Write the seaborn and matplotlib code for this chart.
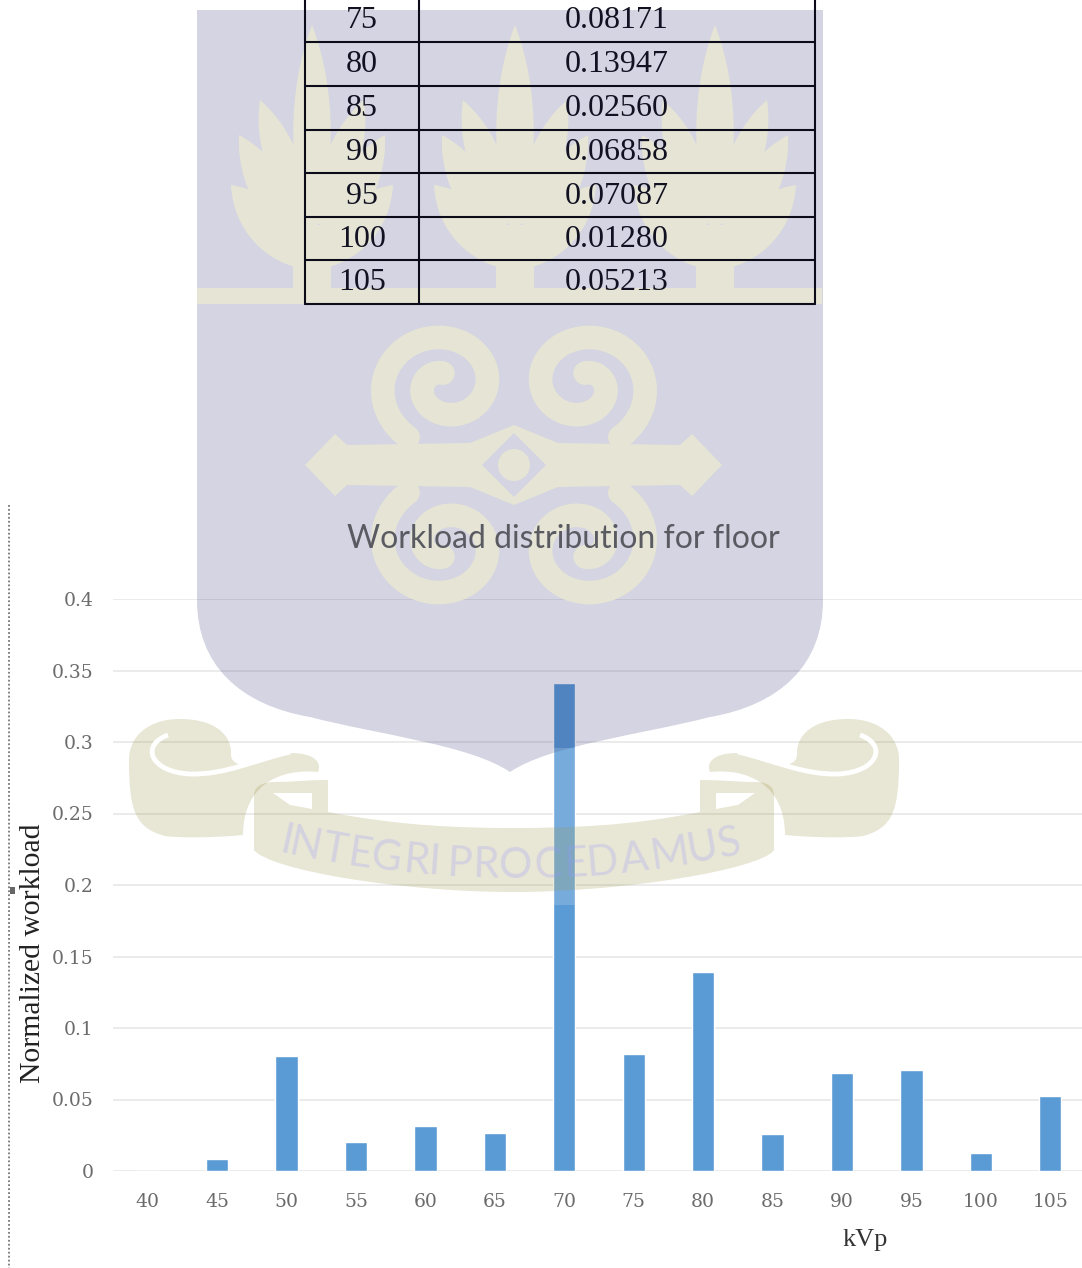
import numpy as np
import pandas as pd
import seaborn as sns
import matplotlib
matplotlib.use("Agg")
import matplotlib.pyplot as plt
from matplotlib.font_manager import FontProperties
from matplotlib.path import Path
from matplotlib.patches import PathPatch, Ellipse, Polygon, Rectangle
from matplotlib.textpath import TextPath

# chart data
kvp = ["40", "45", "50", "55", "60", "65", "70", "75", "80", "85", "90", "95", "100", "105"]
workload = [0, 0.0082, 0.0805, 0.0203, 0.0318, 0.0265, 0.3415, 0.08171, 0.13947, 0.02560, 0.06858, 0.07087, 0.01280, 0.05213]
y_ticks = [0, 0.05, 0.1, 0.15, 0.2, 0.25, 0.3, 0.35, 0.4]
y_tick_labels = ["0", "0.05", "0.1", "0.15", "0.2", "0.25", "0.3", "0.35", "0.4"]

# table rows at the top of the page
table_kvp = ["75", "80", "85", "90", "95", "100", "105"]
table_workload = ["0.08171", "0.13947", "0.02560", "0.06858", "0.07087", "0.01280", "0.05213"]

W, H = 1082, 1268
LAVENDER = (40 / 255, 40 / 255, 110 / 255)
LAV_SOLID = "#d4d4e3"
CREAM = "#e6e5d5"
CREAM_A = (140 / 255, 130 / 255, 40 / 255)
GRAY = "#6b6b6b"

sns.set_theme(style="white")
fig = plt.figure(figsize=(W / 100, H / 100), dpi=100, facecolor="white")

# main chart
ax = fig.add_axes([113 / W, (H - 1171) / H, 972 / W, (1171 - 599) / H], zorder=1)
ax.patch.set_alpha(0)
df = pd.DataFrame({"kVp": kvp, "workload": workload})
sns.barplot(data=df, x="kVp", y="workload", color="#5b9bd5", saturation=1, width=0.32, ax=ax, zorder=3)
ax.set_ylim(0, 0.4)
ax.set_yticks(y_ticks)
ax.set_yticklabels(y_tick_labels)
ax.tick_params(axis="both", length=0, labelsize=13.5, labelcolor=GRAY)
ax.tick_params(axis="x", pad=16)
ax.tick_params(axis="y", pad=14)
for t in ax.get_xticklabels() + ax.get_yticklabels():
    t.set_family("DejaVu Serif")
ax.grid(axis="y", color="#e6e6e6", lw=1.1)
ax.set_axisbelow(True)
sns.despine(ax=ax, left=True, bottom=True)
ax.set_xlabel("")
ax.set_ylabel("")


# everything else is drawn in page pixels
pg = fig.add_axes([0, 0, 1, 1], zorder=2)
pg.set_xlim(0, W)
pg.set_ylim(H, 0)
pg.axis("off")
pg.patch.set_alpha(0)


def bez(points, **kw):
    # points: start, then triples of control points
    codes = [Path.MOVETO] + [Path.CURVE4] * (len(points) - 1)
    p = PathPatch(Path(points, codes), lw=0, **kw)
    pg.add_patch(p)


def leaf(x0, y0, x1, y1, w, color=CREAM):
    # leaf from stem point to tip, bulging both sides
    dx, dy = x1 - x0, y1 - y0
    nx, ny = -dy, dx
    ln = np.hypot(nx, ny)
    nx, ny = nx / ln * w, ny / ln * w
    bez([(x0, y0),
         (x0 + dx * .3 + nx, y0 + dy * .3 + ny), (x0 + dx * .7 + nx, y0 + dy * .7 + ny), (x1, y1),
         (x0 + dx * .7 - nx, y0 + dy * .7 - ny), (x0 + dx * .3 - nx, y0 + dy * .3 - ny), (x0, y0)],
        color=color, zorder=3)


def plant(cx):
    leaf(cx, 240, cx, 25, 25)
    for side in (-1, 1):
        leaf(cx + side * 6, 225, cx + side * 52, 100, 22)
        leaf(cx + side * 6, 255, cx + side * 73, 135, 26)
        leaf(cx + side * 4, 270, cx + side * 81, 185, 28)
    pg.add_patch(Rectangle((cx - 19, 225), 38, 70, color=CREAM, lw=0, zorder=3))


def spiral(cx, cy, sign, vert):
    # from the outer end, round the top and in to the curl
    t = np.linspace(1.0, -2.45 * np.pi, 180)
    r = 62 - 50 * (1.0 - t) / (1.0 + 2.45 * np.pi)
    xs = cx + sign * r * np.cos(t) * 1.1
    ys = cy + vert * r * np.sin(t)
    pg.plot(xs, ys, color=CREAM, lw=17, solid_capstyle="round", zorder=3)


# shield
mid = 510
left = [(197, 10), (197, 250), (197, 420), (197, 600),
        (197, 665), (240, 705), (310, 717),
        (380, 735), (470, 745), (mid, 772)]
right = [(2 * mid - x, y) for x, y in left[::-1]]
shield = left + right[1:] + [(197, 10)]
codes = [Path.MOVETO] + [Path.CURVE4] * (len(left) + len(right) - 2) + [Path.CLOSEPOLY]
pg.add_patch(PathPatch(Path(shield, codes), color=LAVENDER, alpha=0.2, lw=0, zorder=2))

# leaves and emblem
for cx in (312, 515, 715):
    plant(cx)
pg.add_patch(Rectangle((197, 288), 625, 16, color=CREAM, lw=0, zorder=3))
for sign in (-1, 1):
    spiral(514 + sign * 69, 385, sign, 1)
    spiral(514 + sign * 69, 545, sign, -1)
pg.add_patch(Polygon([(305, 465), (335, 434), (347, 445), (470, 443), (514, 425), (558, 443), (680, 445), (692, 434),
                      (722, 465), (692, 496), (680, 485), (558, 487), (514, 505), (470, 487), (347, 485), (335, 496)],
                     closed=True, color=CREAM, lw=0, zorder=3.2))
pg.add_patch(Polygon([(482, 465), (514, 433), (546, 465), (514, 497)], closed=True, color=LAV_SOLID, lw=0, zorder=3.3))
pg.add_patch(Ellipse((514, 465), 32, 32, color=CREAM, lw=0, zorder=3.4))

# ribbon
ribbon_kw = dict(color=CREAM_A, alpha=0.2, zorder=2)
for flip in (False, True):
    fx = (lambda x: 1028 - x) if flip else (lambda x: x)
    roll = [(129, 760), (129, 735), (150, 719), (180, 719),
            (215, 719), (232, 735), (231, 755),
            (231, 762), (240, 772), (270, 757),
            (295, 748), (325, 755), (318, 772),
            (280, 768), (243, 785), (243, 835),
            (210, 838), (180, 838), (165, 836),
            (135, 828), (129, 810), (129, 760)]
    bez([(fx(x), y) for x, y in roll], **ribbon_kw)
    # white curl line inside the roll
    curl = [(168, 735), (140, 745), (150, 772), (190, 774), (225, 775), (255, 760), (290, 752)]
    pg.add_patch(PathPatch(Path([(fx(x), y) for x, y in curl], [Path.MOVETO] + [Path.CURVE4] * 6),
                           fc="none", ec="white", lw=3.5, zorder=2.5))
    # gap in the folded end of the band
    pg.add_patch(Polygon([(fx(273), 793), (fx(312), 793), (fx(312), 809), (fx(290), 805)], closed=True,
                         color="white", lw=0, zorder=2.5))
band = [(254, 795), (254, 787), (262, 782), (275, 782),
        (290, 782), (310, 780), (328, 780),
        (328, 790), (328, 800), (328, 812),
        (400, 826), (460, 828), (514, 828),
        (570, 828), (630, 826), (700, 812),
        (700, 800), (700, 790), (700, 780),
        (720, 780), (740, 782), (755, 782),
        (768, 782), (774, 787), (774, 795),
        (774, 810), (774, 830), (774, 850),
        (760, 870), (620, 892), (514, 892),
        (400, 892), (270, 870), (254, 850),
        (254, 830), (254, 810), (254, 795)]
bez(band, **ribbon_kw)
# pale strip over the tall bar where the watermark has no fill
pg.add_patch(Rectangle((553, 748), 23, 157, color="white", alpha=0.17, lw=0, zorder=2.1))

# motto, letters spaced by their own width along the curved band
motto = "INTEGRI PROCEDAMUS"
fp = FontProperties(family="Lato")
R = 1050
widths = [9 if ch == " " else TextPath((0, 0), ch, size=42, prop=fp).get_extents().width + 3 for ch in motto]
edges = np.cumsum([0] + widths)
scale = 458 / edges[-1]
for i, ch in enumerate(motto):
    x = 283 + (edges[i] + widths[i] / 2) * scale
    a = np.arcsin((x - 514) / R)
    y = 866 - R * (1 - np.cos(a))
    pg.text(x, y, ch, family="Lato", fontsize=30, color=(150 / 255, 150 / 255, 1), alpha=0.25,
            ha="center", va="center", rotation=np.degrees(a), zorder=4)

# table
col_x = [305, 419, 815]
row_y = [-2, 42, 86, 130, 173, 217, 260, 304]
for x in col_x:
    pg.plot([x, x], [row_y[0], row_y[-1]], color="#0b0b1a", lw=1.5, zorder=5)
for y in row_y[1:]:
    pg.plot([col_x[0], col_x[-1]], [y, y], color="#0b0b1a", lw=1.5, zorder=5)
for i, (k, v) in enumerate(zip(table_kvp, table_workload)):
    yc = (row_y[i] + row_y[i + 1]) / 2 + 1 if i else 20
    pg.text((col_x[0] + col_x[1]) / 2, yc, k, family="Liberation Serif", fontsize=23, color="#111122",
            ha="center", va="center", zorder=6)
    pg.text((col_x[1] + col_x[2]) / 2, yc, v, family="Liberation Serif", fontsize=23, color="#111122",
            ha="center", va="center", zorder=6)

# labels
pg.text(563, 539, "Workload distribution for floor", family="Lato", fontsize=23, color="#5a5a62",
        ha="center", va="center", zorder=6)
pg.text(33, 953, "Normalized workload", family="Liberation Serif", fontsize=21.3, color="#222222",
        rotation=90, ha="center", va="center", zorder=6)
pg.text(865, 1240, "kVp", family="Liberation Serif", fontsize=19, color="#333333", ha="center", va="center", zorder=6)
pg.plot([9, 9], [505, 1268], color="#777777", lw=1.3, ls=(0, (1, 1.2)), zorder=6)
pg.add_patch(Rectangle((10, 887), 5, 7, color="#666666", lw=0, zorder=6))

fig.savefig("out.png", dpi=100)
